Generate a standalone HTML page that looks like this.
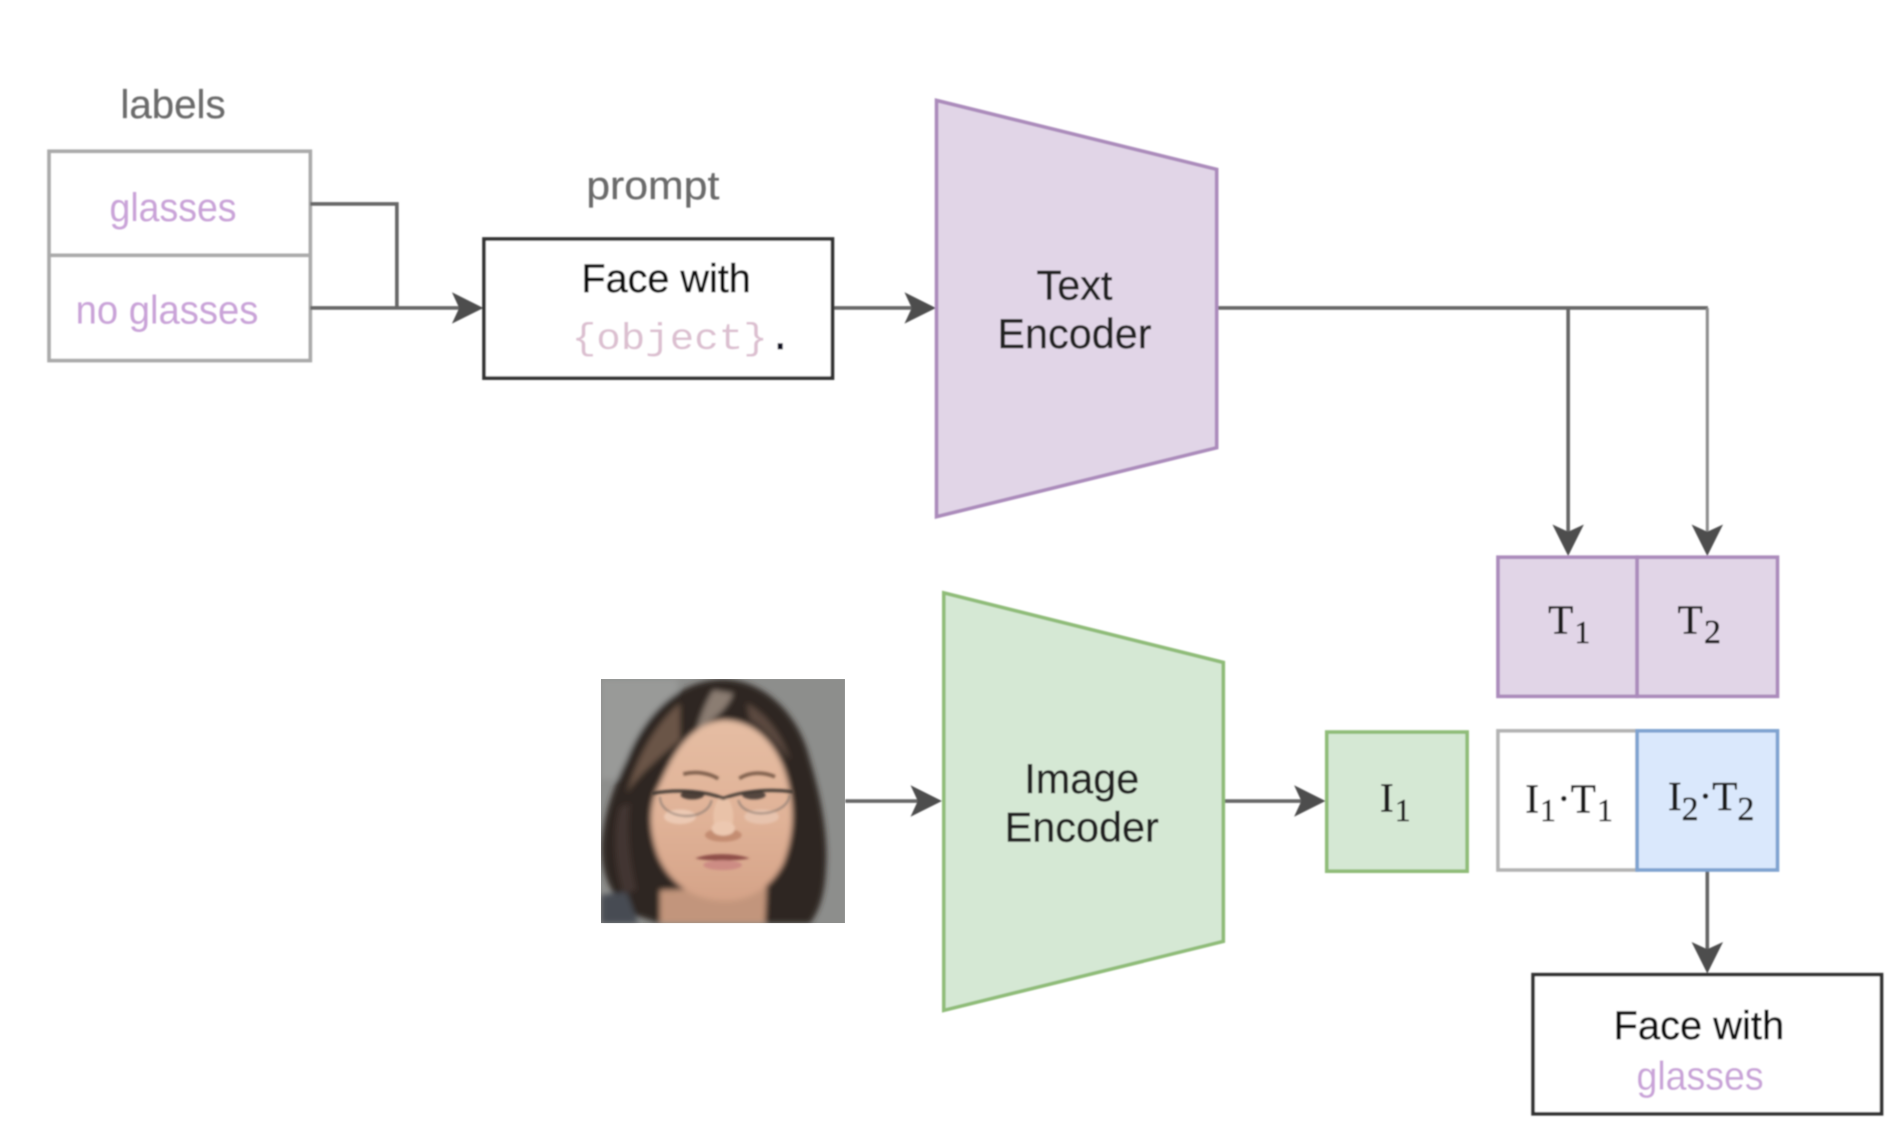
<!DOCTYPE html>
<html><head><meta charset="utf-8"><style>html,body{margin:0;padding:0;background:#fff;width:1898px;height:1125px;overflow:hidden}svg{display:block}
text{font-family:"Liberation Sans",sans-serif}
.s{font-family:"Liberation Serif",serif;fill:#1f1f1f;stroke:#1f1f1f;stroke-width:.45}
</style></head><body>
<svg xmlns="http://www.w3.org/2000/svg" width="1898" height="1125" viewBox="0 0 1568.6 929.75">
<defs>
<filter id="b" x="-5%" y="-5%" width="110%" height="110%"><feGaussianBlur stdDeviation="0.6"/></filter>
<filter id="f" x="-20%" y="-20%" width="140%" height="140%"><feGaussianBlur stdDeviation="9"/></filter>
<filter id="f2" x="-20%" y="-20%" width="140%" height="140%"><feGaussianBlur stdDeviation="4"/></filter>
<clipPath id="c"><rect x="63" y="57" width="732" height="732"/></clipPath>
<linearGradient id="sk" x1="0" y1="0" x2="0" y2="1"><stop offset="0" stop-color="#e5bda3"/><stop offset=".55" stop-color="#e0b297"/><stop offset="1" stop-color="#d5a388"/></linearGradient>
<path id="ah" d="M0 0L-26 -13L-20 0L-26 13Z" fill="#4d4d4d"/>
</defs>
<g transform="translate(.5 .5)">
<g filter="url(#b)">
<g fill="#6b6b6b" font-size="33" stroke="#6b6b6b" stroke-width=".2"><text x="99" y="97" textLength="87" lengthAdjust="spacingAndGlyphs">labels</text><text x="484" y="164" textLength="110" lengthAdjust="spacingAndGlyphs">prompt</text></g>
<g fill="none" stroke="#aaa" stroke-width="3"><rect x="40" y="124.500" width="216" height="173"/><path d="M40 210.500H256"/></g>
<g fill="#c9a3d8" font-size="33"><text x="90" y="182" textLength="105" lengthAdjust="spacingAndGlyphs">glasses</text><text x="62" y="267" textLength="151" lengthAdjust="spacingAndGlyphs">no glasses</text></g>
<g fill="none" stroke="#666" stroke-width="3"><path d="M256 168H327.500V254"/><path d="M256 254H380"/><path d="M688 254H755"/><path d="M1005 254H1411"/><path d="M1295.500 254V442"/><path d="M698 661.500H760"/><path d="M1011 661.500H1078"/><path d="M1410.500 719V786"/></g>
<path d="M1410.500 254V442" fill="none" stroke="#8c8c8c" stroke-width="2.500"/>
<use href="#ah" x="399" y="254"/><use href="#ah" x="773" y="254"/><use href="#ah" x="778" y="661.500"/><use href="#ah" x="1095" y="661.500"/>
<use href="#ah" transform="translate(1295.500 459) rotate(90)"/><use href="#ah" transform="translate(1410.500 459) rotate(90)"/><use href="#ah" transform="translate(1410.500 804) rotate(90)"/>
<rect x="399.500" y="197" width="288" height="115" fill="#fff" stroke="#333" stroke-width="3"/>
<text x="480" y="241" font-size="33" fill="#111" stroke="#111" stroke-width=".4" textLength="140" lengthAdjust="spacingAndGlyphs">Face with</text>
<text x="472" y="288" font-size="31" fill="#dcbfd0" textLength="162" lengthAdjust="spacingAndGlyphs" style="font-family:'Liberation Mono',monospace">{object}</text>
<text x="635" y="288" font-size="31" fill="#112" stroke="#112" stroke-width=".6" style="font-family:'Liberation Mono',monospace">.</text>
<polygon points="773.500,82.500 1005,139.500 1005,369.500 773.500,426.500" fill="#e1d5e7" stroke="#ab8bbb" stroke-width="3"/>
<polygon points="779.500,489.500 1010.500,547 1010.500,777.500 779.500,834.500" fill="#d5e8d4" stroke="#8fbc78" stroke-width="3"/>
<g font-size="34.200" fill="#222" stroke="#222" stroke-width=".35" text-anchor="middle"><text x="887.500" y="247">Text</text><text x="887.500" y="287">Encoder</text><text x="893.500" y="655">Image</text><text x="893.500" y="695">Encoder</text></g>
<rect x="1237.500" y="460" width="115" height="115" fill="#e1d5e7" stroke="#ab8bbb" stroke-width="3"/>
<rect x="1352.500" y="460" width="116" height="115" fill="#e1d5e7" stroke="#ab8bbb" stroke-width="3"/>
<rect x="1237.500" y="603.500" width="115" height="115" fill="#fff" stroke="#b3b3b3" stroke-width="3"/>
<rect x="1352.500" y="603.500" width="116" height="115" fill="#dae8fc" stroke="#7fa3d0" stroke-width="3"/>
<rect x="1096" y="604.500" width="116" height="115" fill="#d5e8d4" stroke="#8fbc78" stroke-width="3"/>
<rect x="1266.500" y="805" width="288" height="115" fill="#fff" stroke="#333" stroke-width="3"/>
<text x="1333" y="858" font-size="33" fill="#111" stroke="#111" stroke-width=".4" textLength="141" lengthAdjust="spacingAndGlyphs">Face with</text>
<text x="1352" y="900" font-size="33" fill="#c9a3d8" textLength="105" lengthAdjust="spacingAndGlyphs">glasses</text>
<g font-size="34">
<text class="s" x="1279" y="523">T<tspan font-size="26" dy="8" dx="1">1</tspan></text>
<text class="s" x="1386" y="523">T<tspan font-size="28" dy="8" dx="1">2</tspan></text>
<text class="s" x="1140" y="670">I<tspan font-size="26" dy="8" dx="1">1</tspan></text>
<text class="s" x="1260" y="671">I<tspan font-size="26" dy="7" dx="1">1</tspan><tspan dy="-7" dx="1">·T</tspan><tspan font-size="26" dy="7" dx="1">1</tspan></text>
<text class="s" x="1378" y="669">I<tspan font-size="28" dy="8">2</tspan><tspan dy="-8">·T</tspan><tspan font-size="28" dy="8">2</tspan></text>
</g>
</g>
</g>
<g transform="translate(479.300 545.500) scale(.2755)" clip-path="url(#c)">
<rect x="63" y="57" width="732" height="732" fill="#8d8e8c"/>
<g filter="url(#f)">
<rect x="63" y="57" width="230" height="300" fill="#999a98"/>
<path d="M430 58C560 60 660 170 690 300C720 400 745 520 738 620C735 700 720 750 690 790H240L150 760C90 700 65 640 65 560C70 470 100 380 140 300C190 170 290 60 430 58Z" fill="#2f2621"/>
<path d="M63 705L140 695L175 790H63Z" fill="#474b52"/>
<path d="M240 690L560 680L555 790H240Z" fill="#c2957c"/>
<path d="M430 180C530 180 600 260 625 370C645 450 640 530 610 610C570 690 500 725 430 722C340 720 270 670 235 590C205 510 205 430 240 370C280 280 330 190 430 180Z" fill="url(#sk)"/>
<path d="M300 130C250 170 180 260 140 400C170 350 240 290 300 240Z" fill="#6b5546"/>
<path d="M400 90C380 120 360 170 350 210C400 180 440 150 460 100Z" fill="#8b7d72"/>
<path d="M500 130C560 160 610 230 630 300C600 260 550 200 510 180Z" fill="#5c4a40"/>
<path d="M120 440C100 500 100 600 130 700L170 690C150 600 140 520 150 430Z" fill="#433630"/>
</g>
<g filter="url(#f2)">
<ellipse cx="300" cy="470" rx="48" ry="22" fill="#ecc9b3"/>
<ellipse cx="545" cy="470" rx="52" ry="22" fill="#e7c3ad"/>
<ellipse cx="430" cy="470" rx="30" ry="60" fill="#e9c2a8"/>
<ellipse cx="430" cy="525" rx="55" ry="20" fill="#c48d72"/>
<ellipse cx="430" cy="505" rx="35" ry="22" fill="#ecc8b0"/>
<path d="M310 342C350 332 390 340 415 356M478 355C510 335 550 335 585 350" fill="none" stroke="#80604e" stroke-width="11"/>
<ellipse cx="337" cy="405" rx="35" ry="13" fill="#4e4038"/>
<ellipse cx="522" cy="405" rx="35" ry="13" fill="#554740"/>
<path d="M215 400C300 385 380 395 430 415C480 395 560 385 640 395" fill="none" stroke="#3f3733" stroke-width="9"/>
<path d="M240 410C240 480 380 490 395 420M475 420C490 480 620 470 630 405" fill="none" stroke="#8f7e74" stroke-width="5"/>
<path d="M345 595C390 578 460 578 510 595C460 604 390 604 345 595Z" fill="#8f5048"/>
<ellipse cx="428" cy="615" rx="58" ry="15" fill="#cd8c84"/>
</g>
</g>
</svg>
</body></html>
